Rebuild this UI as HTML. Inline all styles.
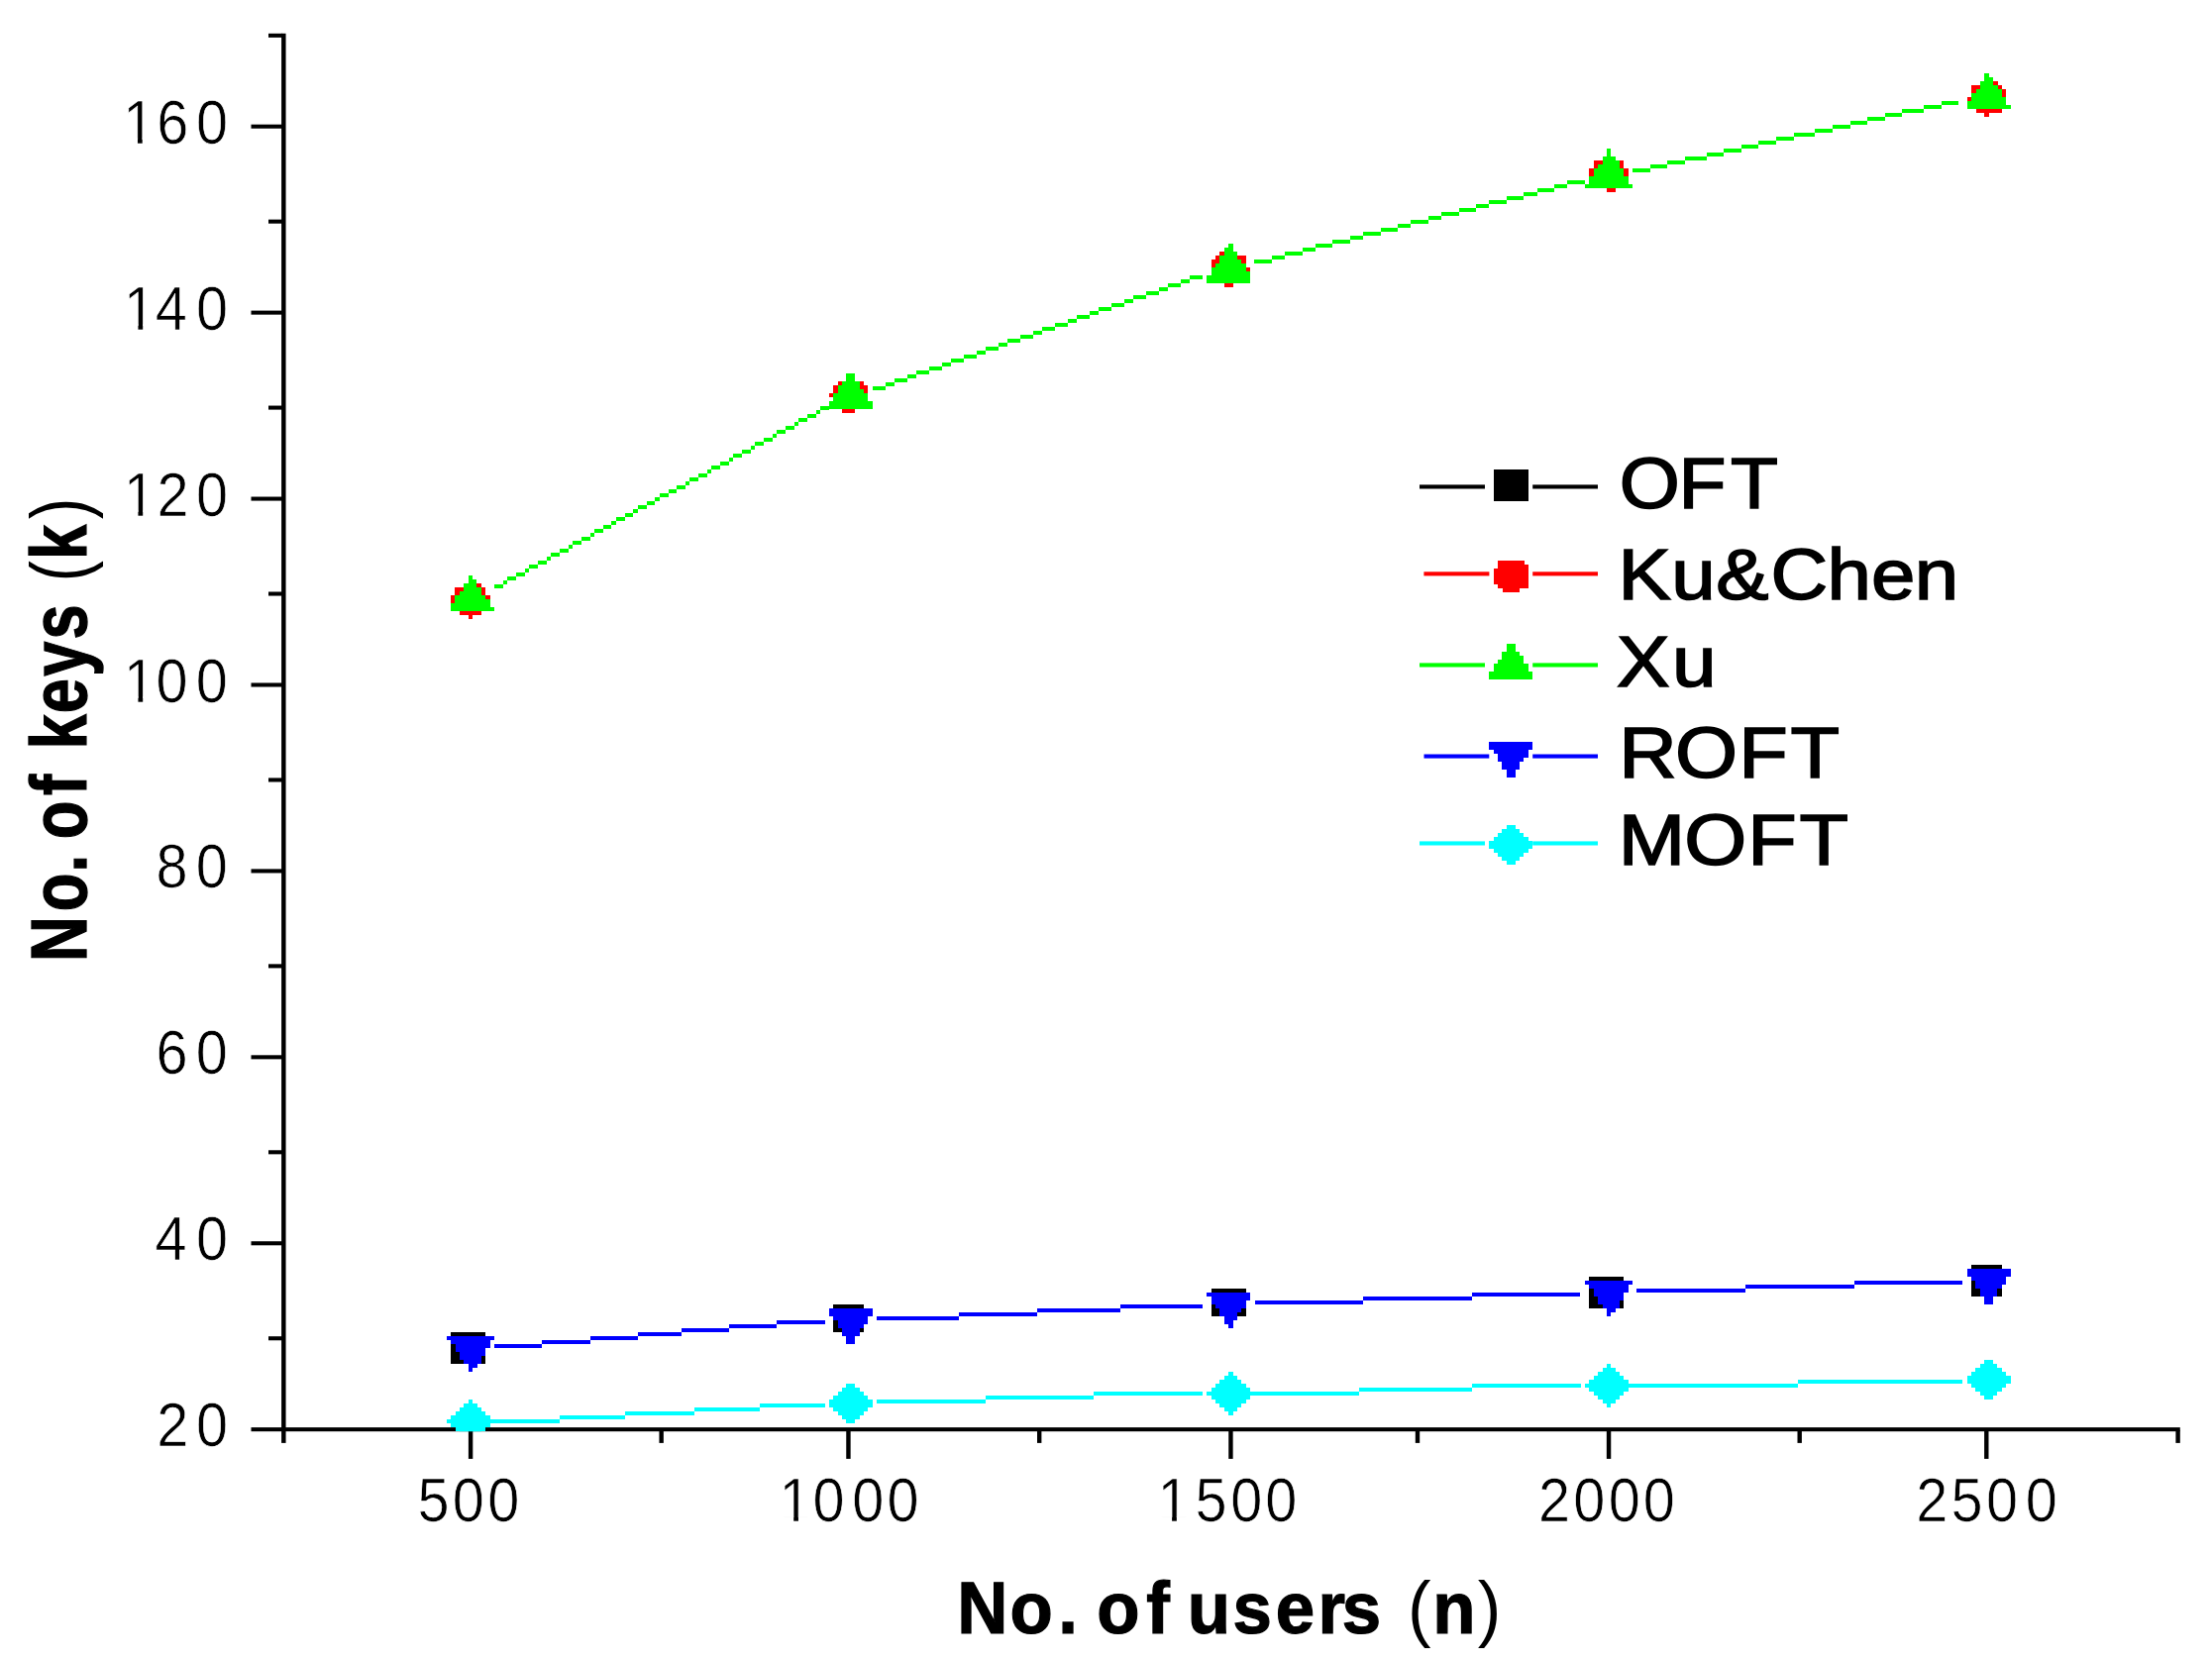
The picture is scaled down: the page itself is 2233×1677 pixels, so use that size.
<!DOCTYPE html>
<html lang="en"><head><meta charset="utf-8"><title>No. of keys vs No. of users</title>
<style>
html,body{margin:0;padding:0;background:#fff;}
body{width:2233px;height:1677px;overflow:hidden;}
svg{display:block;}
text{font-family:"Liberation Sans",sans-serif;fill:#000;white-space:pre;}
.tk{stroke:#fff;stroke-width:0.7px;paint-order:fill stroke;}
.lg{stroke:#000;stroke-width:1.6px;stroke-linejoin:miter;}
.tt{stroke:#000;stroke-width:1.2px;stroke-linejoin:miter;}
.pn{stroke:none;}
</style></head><body>
<svg width="2233" height="1677" viewBox="0 0 2233 1677">
<rect width="2233" height="1677" fill="#fff"/>
<g fill="#000">
<rect x="284.1" y="33.8" width="4.45" height="1423.1"/>
<rect x="253.5" y="1441.15" width="1947.3" height="4.05"/>
<rect x="271.0" y="1349.21" width="14.1" height="4.06"/>
<rect x="253.5" y="1253.24" width="31.6" height="4.06"/>
<rect x="271.0" y="1161.28" width="14.1" height="4.06"/>
<rect x="253.5" y="1065.31" width="31.6" height="4.06"/>
<rect x="271.0" y="973.35" width="14.1" height="4.06"/>
<rect x="253.5" y="877.38" width="31.6" height="4.06"/>
<rect x="271.0" y="785.42" width="14.1" height="4.06"/>
<rect x="253.5" y="689.46" width="31.6" height="4.06"/>
<rect x="271.0" y="597.49" width="14.1" height="4.06"/>
<rect x="253.5" y="501.53" width="31.6" height="4.06"/>
<rect x="271.0" y="409.56" width="14.1" height="4.06"/>
<rect x="253.5" y="313.6" width="31.6" height="4.06"/>
<rect x="271.0" y="221.63" width="14.1" height="4.06"/>
<rect x="253.5" y="125.67" width="31.6" height="4.06"/>
<rect x="271.0" y="33.82" width="14.1" height="4.06"/>
<rect x="472.9" y="1444.2" width="4.4" height="28.7"/>
<rect x="665.45" y="1444.2" width="4.4" height="12.7"/>
<rect x="854.25" y="1444.2" width="4.4" height="28.7"/>
<rect x="1047" y="1444.2" width="4.4" height="12.7"/>
<rect x="1240.25" y="1444.2" width="4.4" height="28.7"/>
<rect x="1428.8" y="1444.2" width="4.4" height="12.7"/>
<rect x="1621.85" y="1444.2" width="4.4" height="28.7"/>
<rect x="1814.5" y="1444.2" width="4.4" height="12.7"/>
<rect x="2003.1" y="1444.2" width="4.4" height="28.7"/>
<rect x="2196.4" y="1444.2" width="4.4" height="12.7"/>
</g>
<clipPath id="plot"><rect x="284.1" y="30" width="1950" height="1415.2"/></clipPath>
<g clip-path="url(#plot)" shape-rendering="crispEdges">
<path d="M499.05 589.7h8.77v4h-8.77zM507.82 585.7h4.39v4h-4.39zM512.21 581.7h8.77v4h-8.77zM520.98 577.69h8.77v4h-8.77zM529.75 573.69h4.39v4h-4.39zM534.14 569.69h8.77v4h-8.77zM542.91 565.69h8.77v4h-8.77zM551.69 561.68h4.39v4h-4.39zM556.07 557.68h8.77v4h-8.77zM564.85 553.68h8.77v4h-8.77zM573.62 549.68h4.39v4h-4.39zM578.01 545.67h8.77v4h-8.77zM586.78 541.67h8.77v4h-8.77zM595.55 537.67h4.39v4h-4.39zM599.94 533.67h8.77v4h-8.77zM608.71 529.66h8.77v4h-8.77zM617.48 525.66h4.39v4h-4.39zM621.87 521.66h8.77v4h-8.77zM630.64 517.66h8.77v4h-8.77zM639.41 513.65h4.39v4h-4.39zM643.8 509.65h8.77v4h-8.77zM652.57 505.65h8.77v4h-8.77zM661.35 501.65h4.39v4h-4.39zM665.73 497.64h8.77v4h-8.77zM674.51 493.64h8.77v4h-8.77zM683.28 489.64h8.77v4h-8.77zM692.05 485.64h4.39v4h-4.39zM696.44 481.64h8.77v4h-8.77zM705.21 477.63h8.77v4h-8.77zM713.98 473.63h4.39v4h-4.39zM718.37 469.63h8.77v4h-8.77zM727.14 465.63h8.77v4h-8.77zM735.92 461.62h4.39v4h-4.39zM740.3 457.62h8.77v4h-8.77zM749.07 453.62h8.77v4h-8.77zM757.85 449.62h4.39v4h-4.39zM762.23 445.61h8.77v4h-8.77zM771.01 441.61h8.77v4h-8.77zM779.78 437.61h4.39v4h-4.39zM784.17 433.61h8.77v4h-8.77zM792.94 429.6h8.77v4h-8.77zM801.71 425.6h4.39v4h-4.39zM806.1 421.6h8.77v4h-8.77zM814.87 417.6h8.77v4h-8.77zM823.64 413.59h4.39v4h-4.39zM828.03 409.59h8.77v4h-8.77z" fill="#0f0"/>
<path d="M880.7 389.7h13.16v4h-13.16zM893.86 385.7h8.77v4h-8.77zM902.63 381.7h13.16v4h-13.16zM915.79 377.69h8.77v4h-8.77zM924.56 373.69h13.16v4h-13.16zM937.72 369.69h13.16v4h-13.16zM950.88 365.69h8.77v4h-8.77zM959.66 361.68h13.16v4h-13.16zM972.81 357.68h13.16v4h-13.16zM985.97 353.68h8.77v4h-8.77zM994.75 349.68h13.16v4h-13.16zM1007.91 345.67h8.77v4h-8.77zM1016.68 341.67h13.16v4h-13.16zM1029.84 337.67h13.16v4h-13.16zM1043 333.67h8.77v4h-8.77zM1051.77 329.66h13.16v4h-13.16zM1064.93 325.66h13.16v4h-13.16zM1078.09 321.66h8.77v4h-8.77zM1086.86 317.66h13.16v4h-13.16zM1100.02 313.65h8.77v4h-8.77zM1108.79 309.65h13.16v4h-13.16zM1121.95 305.65h13.16v4h-13.16zM1135.11 301.65h8.77v4h-8.77zM1143.88 297.64h13.16v4h-13.16zM1157.04 293.64h13.16v4h-13.16zM1170.2 289.64h8.77v4h-8.77zM1178.98 285.64h13.16v4h-13.16zM1192.13 281.64h8.77v4h-8.77zM1200.91 277.63h13.16v4h-13.16z" fill="#0f0"/>
<path d="M1266.4 261.8h17.55v4h-17.55zM1283.95 257.8h13.16v4h-13.16zM1297.1 253.8h17.55v4h-17.55zM1314.65 249.79h13.16v4h-13.16zM1327.81 245.79h17.55v4h-17.55zM1345.36 241.79h17.55v4h-17.55zM1362.9 237.79h13.16v4h-13.16zM1376.06 233.78h17.55v4h-17.55zM1393.61 229.78h17.55v4h-17.55zM1411.15 225.78h13.16v4h-13.16zM1424.31 221.78h17.55v4h-17.55zM1441.86 217.77h13.16v4h-13.16zM1455.02 213.77h17.55v4h-17.55zM1472.56 209.77h17.55v4h-17.55zM1490.11 205.77h13.16v4h-13.16zM1503.27 201.76h17.55v4h-17.55zM1520.81 197.76h17.55v4h-17.55zM1538.36 193.76h13.16v4h-13.16zM1551.52 189.76h17.55v4h-17.55zM1569.06 185.75h13.16v4h-13.16zM1582.22 181.75h17.55v4h-17.55z" fill="#0f0"/>
<path d="M1648.2 169.8h17.55v4h-17.55zM1665.75 165.8h17.55v4h-17.55zM1683.29 161.8h17.55v4h-17.55zM1700.84 157.79h21.93v4h-21.93zM1722.77 153.79h17.55v4h-17.55zM1740.31 149.79h17.55v4h-17.55zM1757.86 145.79h17.55v4h-17.55zM1775.41 141.78h17.55v4h-17.55zM1792.95 137.78h17.55v4h-17.55zM1810.5 133.78h21.93v4h-21.93zM1832.43 129.78h17.55v4h-17.55zM1849.97 125.77h17.55v4h-17.55zM1867.52 121.77h17.55v4h-17.55zM1885.07 117.77h17.55v4h-17.55zM1902.61 113.77h17.55v4h-17.55zM1920.16 109.76h21.93v4h-21.93zM1942.09 105.76h17.55v4h-17.55zM1959.63 101.76h17.55v4h-17.55z" fill="#0f0"/>
<path d="M499.2 1357.1h48.25v4h-48.25zM547.45 1353.1h48.25v4h-48.25zM595.7 1349.1h48.25v4h-48.25zM643.95 1345.09h43.86v4h-43.86zM687.82 1341.09h48.25v4h-48.25zM736.07 1337.09h48.25v4h-48.25zM784.32 1333.09h48.25v4h-48.25z" fill="#00f"/>
<path d="M884.9 1329.2h83.34v4h-83.34zM968.24 1325.2h78.96v4h-78.96zM1047.2 1321.2h83.34v4h-83.34zM1130.54 1317.19h83.34v4h-83.34z" fill="#00f"/>
<path d="M1266.5 1313.1h109.66v4h-109.66zM1376.16 1309.1h109.66v4h-109.66zM1485.82 1305.1h109.66v4h-109.66z" fill="#00f"/>
<path d="M1652.3 1301.2h109.66v4h-109.66zM1761.96 1297.2h109.66v4h-109.66zM1871.62 1293.2h109.66v4h-109.66z" fill="#00f"/>
<path d="M499.2 1433.3h65.8v4h-65.8zM565 1429.3h65.8v4h-65.8zM630.79 1425.3h70.18v4h-70.18zM700.97 1421.29h65.8v4h-65.8zM766.77 1417.29h65.8v4h-65.8z" fill="#0ff"/>
<path d="M884.9 1413.2h109.66v4h-109.66zM994.56 1409.2h109.66v4h-109.66zM1104.22 1405.2h109.66v4h-109.66z" fill="#0ff"/>
<path d="M1262.2 1405.1h109.66v4h-109.66zM1371.86 1401.1h114.05v4h-114.05zM1485.91 1397.1h109.66v4h-109.66z" fill="#0ff"/>
<path d="M1647.9 1397h166.68v4h-166.68zM1814.58 1393h166.68v4h-166.68z" fill="#0ff"/>
<path d="M455.3 1345h35.09v4h-35.09zM455.3 1349h35.09v4h-35.09zM455.3 1353h35.09v4h-35.09zM455.3 1357.01h35.09v4h-35.09zM455.3 1361.01h35.09v4h-35.09zM455.3 1365.01h35.09v4h-35.09zM455.3 1369.01h35.09v4h-35.09zM455.3 1373.02h35.09v4h-35.09z" fill="#000"/>
<path d="M841.1 1317.1h30.7v4h-30.7zM841.1 1321.1h30.7v4h-30.7zM841.1 1325.1h30.7v4h-30.7zM841.1 1329.11h30.7v4h-30.7zM841.1 1333.11h30.7v4h-30.7zM841.1 1337.11h30.7v4h-30.7zM841.1 1341.11h30.7v4h-30.7z" fill="#000"/>
<path d="M1222.9 1301.3h35.09v4h-35.09zM1222.9 1305.3h35.09v4h-35.09zM1222.9 1309.3h35.09v4h-35.09zM1222.9 1313.31h35.09v4h-35.09zM1222.9 1317.31h35.09v4h-35.09zM1222.9 1321.31h35.09v4h-35.09zM1222.9 1325.31h35.09v4h-35.09z" fill="#000"/>
<path d="M1604.1 1289.1h35.09v4h-35.09zM1604.1 1293.1h35.09v4h-35.09zM1604.1 1297.1h35.09v4h-35.09zM1604.1 1301.11h35.09v4h-35.09zM1604.1 1305.11h35.09v4h-35.09zM1604.1 1309.11h35.09v4h-35.09zM1604.1 1313.11h35.09v4h-35.09zM1604.1 1317.12h35.09v4h-35.09z" fill="#000"/>
<path d="M1990.1 1277.1h30.7v4h-30.7zM1990.1 1281.1h30.7v4h-30.7zM1990.1 1285.1h30.7v4h-30.7zM1990.1 1289.11h30.7v4h-30.7zM1990.1 1293.11h30.7v4h-30.7zM1990.1 1297.11h30.7v4h-30.7zM1990.1 1301.11h30.7v4h-30.7zM1990.1 1305.12h30.7v4h-30.7z" fill="#000"/>
<path d="M468.26 589.3h17.55v4h-17.55zM459.49 593.31h30.7v4h-30.7zM459.49 597.31h30.7v4h-30.7zM455.1 601.31h39.48v4h-39.48zM455.1 605.31h39.48v4h-39.48zM455.1 609.32h39.48v4h-39.48zM459.49 613.32h30.7v4h-30.7zM463.87 617.32h21.93v4h-21.93zM472.65 621.32h4.39v4h-4.39z" fill="#f00"/>
<path d="M845.57 385.4h26.32v4h-26.32zM841.19 389.41h35.09v4h-35.09zM841.19 393.41h35.09v4h-35.09zM836.8 397.41h39.48v4h-39.48zM841.19 401.41h35.09v4h-35.09zM841.19 405.42h35.09v4h-35.09zM845.57 409.42h26.32v4h-26.32zM849.96 413.42h13.16v4h-13.16z" fill="#f00"/>
<path d="M1231.36 253.8h17.55v4h-17.55zM1226.97 257.81h30.7v4h-30.7zM1222.59 261.81h35.09v4h-35.09zM1222.59 265.81h35.09v4h-35.09zM1222.59 269.81h39.48v4h-39.48zM1222.59 273.82h39.48v4h-39.48zM1226.97 277.82h30.7v4h-30.7zM1231.36 281.82h21.93v4h-21.93zM1235.75 285.82h8.77v4h-8.77z" fill="#f00"/>
<path d="M1617.55 157.7h13.16v4h-13.16zM1608.77 161.71h30.7v4h-30.7zM1608.77 165.71h30.7v4h-30.7zM1604.39 169.71h39.48v4h-39.48zM1604.39 173.71h39.48v4h-39.48zM1604.39 177.72h39.48v4h-39.48zM1608.77 181.72h30.7v4h-30.7zM1613.16 185.72h21.93v4h-21.93zM1621.93 189.72h8.77v4h-8.77z" fill="#f00"/>
<path d="M1998.96 81.7h17.55v4h-17.55zM1990.19 85.71h30.7v4h-30.7zM1990.19 89.71h35.09v4h-35.09zM1990.19 93.71h35.09v4h-35.09zM1985.8 97.71h39.48v4h-39.48zM1985.8 101.72h39.48v4h-39.48zM1990.19 105.72h30.7v4h-30.7zM1994.57 109.72h26.32v4h-26.32zM2003.35 113.72h4.39v4h-4.39z" fill="#f00"/>
<path d="M472.65 581.3h4.39v4h-4.39zM472.65 585.3h8.77v4h-8.77zM468.26 589.3h13.16v4h-13.16zM468.26 593.31h17.55v4h-17.55zM463.87 597.31h21.93v4h-21.93zM459.49 601.31h30.7v4h-30.7zM459.49 605.31h35.09v4h-35.09zM455.1 609.32h39.48v4h-39.48zM455.1 613.32h43.86v4h-43.86z" fill="#0f0"/>
<path d="M854.35 377.4h8.77v4h-8.77zM854.35 381.4h8.77v4h-8.77zM849.96 385.4h17.55v4h-17.55zM845.57 389.41h21.93v4h-21.93zM845.57 393.41h26.32v4h-26.32zM841.19 397.41h35.09v4h-35.09zM841.19 401.41h35.09v4h-35.09zM836.8 405.42h43.86v4h-43.86zM836.8 409.42h43.86v4h-43.86z" fill="#0f0"/>
<path d="M1240.13 245.8h4.39v4h-4.39zM1235.75 249.8h8.77v4h-8.77zM1235.75 253.8h13.16v4h-13.16zM1231.36 257.81h17.55v4h-17.55zM1231.36 261.81h21.93v4h-21.93zM1226.97 265.81h30.7v4h-30.7zM1222.59 269.81h35.09v4h-35.09zM1222.59 273.82h39.48v4h-39.48zM1218.2 277.82h43.86v4h-43.86zM1218.2 281.82h43.86v4h-43.86z" fill="#0f0"/>
<path d="M1621.93 149.7h4.39v4h-4.39zM1621.93 153.7h4.39v4h-4.39zM1617.55 157.7h13.16v4h-13.16zM1617.55 161.71h17.55v4h-17.55zM1613.16 165.71h21.93v4h-21.93zM1608.77 169.71h30.7v4h-30.7zM1608.77 173.71h30.7v4h-30.7zM1604.39 177.72h39.48v4h-39.48zM1604.39 181.72h39.48v4h-39.48zM1600 185.72h48.25v4h-48.25z" fill="#0f0"/>
<path d="M2003.35 73.7h4.39v4h-4.39zM2003.35 77.7h8.77v4h-8.77zM1998.96 81.7h13.16v4h-13.16zM1998.96 85.71h17.55v4h-17.55zM1994.57 89.71h26.32v4h-26.32zM1990.19 93.71h30.7v4h-30.7zM1990.19 97.71h35.09v4h-35.09zM1985.8 101.72h39.48v4h-39.48zM1985.8 105.72h43.86v4h-43.86z" fill="#0f0"/>
<path d="M450.9 1349.1h48.25v4h-48.25zM455.29 1353.1h39.48v4h-39.48zM459.67 1357.1h35.09v4h-35.09zM459.67 1361.11h30.7v4h-30.7zM464.06 1365.11h26.32v4h-26.32zM464.06 1369.11h21.93v4h-21.93zM468.45 1373.11h17.55v4h-17.55zM472.83 1377.12h8.77v4h-8.77zM472.83 1381.12h4.39v4h-4.39z" fill="#00f"/>
<path d="M836.8 1321.2h43.86v4h-43.86zM836.8 1325.2h43.86v4h-43.86zM841.19 1329.2h35.09v4h-35.09zM845.57 1333.21h30.7v4h-30.7zM845.57 1337.21h26.32v4h-26.32zM849.96 1341.21h17.55v4h-17.55zM849.96 1345.21h17.55v4h-17.55zM854.35 1349.22h8.77v4h-8.77zM854.35 1353.22h8.77v4h-8.77z" fill="#00f"/>
<path d="M1218.2 1305.2h43.86v4h-43.86zM1222.59 1309.2h39.48v4h-39.48zM1222.59 1313.2h35.09v4h-35.09zM1226.97 1317.21h30.7v4h-30.7zM1231.36 1321.21h21.93v4h-21.93zM1231.36 1325.21h17.55v4h-17.55zM1235.75 1329.21h13.16v4h-13.16zM1235.75 1333.22h8.77v4h-8.77zM1240.13 1337.22h4.39v4h-4.39z" fill="#00f"/>
<path d="M1600 1293.2h48.25v4h-48.25zM1604.39 1297.2h39.48v4h-39.48zM1608.77 1301.2h35.09v4h-35.09zM1608.77 1305.21h30.7v4h-30.7zM1613.16 1309.21h26.32v4h-26.32zM1613.16 1313.21h21.93v4h-21.93zM1617.55 1317.21h17.55v4h-17.55zM1621.93 1321.22h8.77v4h-8.77zM1621.93 1325.22h4.39v4h-4.39z" fill="#00f"/>
<path d="M1985.7 1281.2h43.86v4h-43.86zM1985.7 1285.2h43.86v4h-43.86zM1990.09 1289.2h35.09v4h-35.09zM1994.47 1293.21h30.7v4h-30.7zM1994.47 1297.21h26.32v4h-26.32zM1998.86 1301.21h17.55v4h-17.55zM1998.86 1305.21h17.55v4h-17.55zM2003.25 1309.22h8.77v4h-8.77zM2003.25 1313.22h8.77v4h-8.77z" fill="#00f"/>
<path d="M472.83 1413.1h4.39v4h-4.39zM468.45 1417.1h13.16v4h-13.16zM464.06 1421.1h21.93v4h-21.93zM459.67 1425.11h30.7v4h-30.7zM455.29 1429.11h39.48v4h-39.48zM450.9 1433.11h48.25v4h-48.25zM455.29 1437.11h39.48v4h-39.48zM459.67 1441.12h30.7v4h-30.7zM464.06 1445.12h21.93v4h-21.93zM468.45 1449.12h13.16v4h-13.16zM472.83 1453.12h4.39v4h-4.39z" fill="#0ff"/>
<path d="M854.35 1397.1h8.77v4h-8.77zM849.96 1401.1h17.55v4h-17.55zM845.57 1405.1h26.32v4h-26.32zM841.19 1409.11h35.09v4h-35.09zM836.8 1413.11h43.86v4h-43.86zM836.8 1417.11h43.86v4h-43.86zM841.19 1421.11h35.09v4h-35.09zM845.57 1425.12h26.32v4h-26.32zM849.96 1429.12h17.55v4h-17.55zM854.35 1433.12h8.77v4h-8.77z" fill="#0ff"/>
<path d="M1240.13 1385.2h4.39v4h-4.39zM1235.75 1389.2h13.16v4h-13.16zM1231.36 1393.2h21.93v4h-21.93zM1226.97 1397.21h30.7v4h-30.7zM1222.59 1401.21h39.48v4h-39.48zM1218.2 1405.21h48.25v4h-48.25zM1222.59 1409.21h39.48v4h-39.48zM1226.97 1413.22h30.7v4h-30.7zM1231.36 1417.22h21.93v4h-21.93zM1235.75 1421.22h13.16v4h-13.16zM1240.13 1425.22h4.39v4h-4.39z" fill="#0ff"/>
<path d="M1621.93 1377.1h4.39v4h-4.39zM1617.55 1381.1h13.16v4h-13.16zM1613.16 1385.1h21.93v4h-21.93zM1608.77 1389.11h30.7v4h-30.7zM1604.39 1393.11h39.48v4h-39.48zM1600 1397.11h48.25v4h-48.25zM1604.39 1401.11h39.48v4h-39.48zM1608.77 1405.12h30.7v4h-30.7zM1613.16 1409.12h21.93v4h-21.93zM1617.55 1413.12h13.16v4h-13.16zM1621.93 1417.12h4.39v4h-4.39z" fill="#0ff"/>
<path d="M2003.25 1373.2h8.77v4h-8.77zM1998.86 1377.2h17.55v4h-17.55zM1994.47 1381.2h26.32v4h-26.32zM1990.09 1385.21h35.09v4h-35.09zM1985.7 1389.21h43.86v4h-43.86zM1985.7 1393.21h43.86v4h-43.86zM1990.09 1397.21h35.09v4h-35.09zM1994.47 1401.22h26.32v4h-26.32zM1998.86 1405.22h17.55v4h-17.55zM2003.25 1409.22h8.77v4h-8.77z" fill="#0ff"/>
</g>
<rect x="1433.0" y="489.4" width="66" height="4.1" fill="#000"/>
<rect x="1547.2" y="489.4" width="65.8" height="4.1" fill="#000"/>
<rect x="1437.4" y="577.3" width="66" height="4.1" fill="#f00"/>
<rect x="1547.2" y="577.3" width="65.8" height="4.1" fill="#f00"/>
<rect x="1433.0" y="669.4" width="66" height="4.1" fill="#0f0"/>
<rect x="1547.2" y="669.4" width="65.8" height="4.1" fill="#0f0"/>
<rect x="1437.5" y="761.5" width="65.8" height="4.1" fill="#00f"/>
<rect x="1547.2" y="761.5" width="65.8" height="4.1" fill="#00f"/>
<rect x="1433.0" y="849.4" width="66" height="4.1" fill="#0ff"/>
<rect x="1547.2" y="849.4" width="65.8" height="4.1" fill="#0ff"/>
<g shape-rendering="crispEdges">
<path d="M1507.8 473.7h35.09v4h-35.09zM1507.8 477.7h35.09v4h-35.09zM1507.8 481.7h35.09v4h-35.09zM1507.8 485.71h35.09v4h-35.09zM1507.8 489.71h35.09v4h-35.09zM1507.8 493.71h35.09v4h-35.09zM1507.8 497.71h35.09v4h-35.09zM1507.8 501.72h35.09v4h-35.09z" fill="#000"/>
<path d="M1512.19 565.6h26.32v4h-26.32zM1512.19 569.6h30.7v4h-30.7zM1507.8 573.6h35.09v4h-35.09zM1507.8 577.61h35.09v4h-35.09zM1507.8 581.61h35.09v4h-35.09zM1507.8 585.61h35.09v4h-35.09zM1512.19 589.61h30.7v4h-30.7zM1516.57 593.62h17.55v4h-17.55z" fill="#f00"/>
<path d="M1520.85 649.6h8.77v4h-8.77zM1520.85 653.6h8.77v4h-8.77zM1516.46 657.6h17.55v4h-17.55zM1516.46 661.61h21.93v4h-21.93zM1512.07 665.61h26.32v4h-26.32zM1507.69 669.61h35.09v4h-35.09zM1507.69 673.61h35.09v4h-35.09zM1503.3 677.62h43.86v4h-43.86zM1503.3 681.62h43.86v4h-43.86z" fill="#0f0"/>
<path d="M1503.3 749.4h43.86v4h-43.86zM1503.3 753.4h43.86v4h-43.86zM1507.69 757.4h35.09v4h-35.09zM1512.07 761.41h30.7v4h-30.7zM1512.07 765.41h26.32v4h-26.32zM1516.46 769.41h17.55v4h-17.55zM1516.46 773.41h17.55v4h-17.55zM1520.85 777.42h8.77v4h-8.77zM1520.85 781.42h8.77v4h-8.77z" fill="#00f"/>
<path d="M1520.85 833.4h8.77v4h-8.77zM1516.46 837.4h17.55v4h-17.55zM1512.07 841.4h26.32v4h-26.32zM1507.69 845.41h35.09v4h-35.09zM1503.3 849.41h43.86v4h-43.86zM1503.3 853.41h43.86v4h-43.86zM1507.69 857.41h35.09v4h-35.09zM1512.07 861.42h26.32v4h-26.32zM1516.46 865.42h17.55v4h-17.55zM1520.85 869.42h8.77v4h-8.77z" fill="#0ff"/>
</g>
<g transform="translate(0,144.75) scale(0.9150,1.0000)"><text class="tk" font-size="63" x="135.83 173.09 216.42" y="0">160</text>
<rect x="138.6" y="-5.23" width="13.26" height="5.84" fill="#fff"/>
<rect x="157.05" y="-5.23" width="12.92" height="5.84" fill="#fff"/>
</g>
<g transform="translate(0,332.68) scale(0.9150,1.0000)"><text class="tk" font-size="63" x="136.37 171.21 216.52" y="0">140</text>
<rect x="139.14" y="-5.23" width="13.26" height="5.84" fill="#fff"/>
<rect x="157.6" y="-5.23" width="12.92" height="5.84" fill="#fff"/>
</g>
<g transform="translate(0,520.61) scale(0.9150,1.0000)"><text class="tk" font-size="63" x="136.37 173.19 216.52" y="0">120</text>
<rect x="139.14" y="-5.23" width="13.26" height="5.84" fill="#fff"/>
<rect x="157.6" y="-5.23" width="12.92" height="5.84" fill="#fff"/>
</g>
<g transform="translate(0,708.54) scale(0.9150,1.0000)"><text class="tk" font-size="63" x="136.37 172.26 216.2" y="0">100</text>
<rect x="139.14" y="-5.23" width="13.26" height="5.84" fill="#fff"/>
<rect x="157.6" y="-5.23" width="12.92" height="5.84" fill="#fff"/>
</g>
<g transform="translate(0,896.46) scale(0.9150,1.0000)"><text class="tk" font-size="63" x="172.26 216.2" y="0">80</text>
</g>
<g transform="translate(0,1084.39) scale(0.9150,1.0000)"><text class="tk" font-size="63" x="172.05 216.2" y="0">60</text>
</g>
<g transform="translate(0,1272.32) scale(0.9150,1.0000)"><text class="tk" font-size="63" x="171.04 216.52" y="0">40</text>
</g>
<g transform="translate(0,1460.25) scale(0.9150,1.0000)"><text class="tk" font-size="63" x="173.03 216.52" y="0">20</text>
</g>
<g transform="translate(0,1536.35) scale(0.9150,1.0000)"><text class="tk" font-size="63" x="460.74 499.2 537.89" y="0">500</text>
</g>
<g transform="translate(0,1536.35) scale(0.9150,1.0000)"><text class="tk" font-size="63" x="859.6 896.8 940.24 978.66" y="0">1000</text>
<rect x="862.37" y="-5.23" width="13.26" height="5.84" fill="#fff"/>
<rect x="880.82" y="-5.23" width="12.92" height="5.84" fill="#fff"/>
</g>
<g transform="translate(0,1536.35) scale(0.9150,1.0000)"><text class="tk" font-size="63" x="1276.98 1318.66 1357.56 1395.81" y="0">1500</text>
<rect x="1279.74" y="-5.23" width="13.26" height="5.84" fill="#fff"/>
<rect x="1298.2" y="-5.23" width="12.92" height="5.84" fill="#fff"/>
</g>
<g transform="translate(0,1536.35) scale(0.9150,1.0000)"><text class="tk" font-size="63" x="1697.24 1735.81 1774.56 1812.75" y="0">2000</text>
</g>
<g transform="translate(0,1536.35) scale(0.9150,1.0000)"><text class="tk" font-size="63" x="2113.96 2152.49 2191.22 2234.67" y="0">2500</text>
</g>
<g transform="translate(0,513.4) scale(1.0819,1.0000)"><text class="lg" font-size="72.6" x="1511.08 1566.22 1614.78" y="0">OFT</text>
</g>
<g transform="translate(0,605.3) scale(1.1002,1.0000)"><text class="lg" font-size="72.6" x="1484.83 1533.64 1574.56 1624.69 1676.59 1716.88 1756.82" y="0">Ku&amp;Chen</text>
</g>
<g transform="translate(0,692.6) scale(1.1050,1.0000)"><text class="lg" font-size="72.6" x="1477 1527.55" y="0">Xu</text>
</g>
<g transform="translate(0,785.1) scale(1.1171,1.0000)"><text class="lg" font-size="72.6" x="1462.94 1513.72 1571.28 1618.09" y="0">ROFT</text>
</g>
<g transform="translate(0,873.3) scale(1.1153,1.0000)"><text class="lg" font-size="72.6" x="1464.85 1524.4 1581.79 1628.68" y="0">MOFT</text>
</g>
<g transform="translate(0,1648.8) scale(0.9627,1.0000)"><text class="tt" font-size="73.6" font-weight="bold" x="1003.78 1059.14 1109.56 1114.56 1150.19 1202.11 1207.11 1245.16 1292.61 1337.74 1382.14 1407.33 1412.33 1476.04 1502.26 1549.53" y="0">No. of users <tspan font-weight="normal" class="pn">(</tspan>n<tspan font-weight="normal" class="pn">)</tspan></text>
</g>
<g transform="translate(86.7,0) rotate(-90) scale(0.8605,1.0900)"><text class="tt" font-size="73.6" font-weight="bold" x="-1128.47 -1069.38 -1023.21 -1018.21 -984.68 -933.26 -928.26 -879.26 -837.13 -793.32 -750.21 -745.21 -682.35 -656.49 -609" y="0">No. of keys <tspan font-weight="normal" class="pn">(</tspan>k<tspan font-weight="normal" class="pn">)</tspan></text>
</g>
</svg>
</body></html>
